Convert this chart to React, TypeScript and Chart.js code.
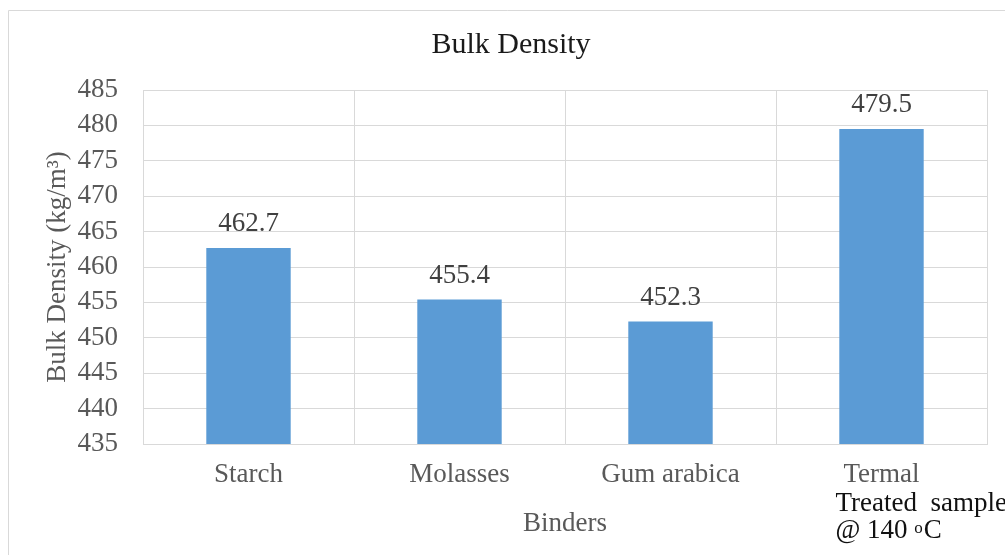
import React, { useEffect, useRef } from "react";
import { Chart, registerables } from "chart.js";

Chart.register(...registerables);

const categories = ["Starch", "Molasses", "Gum arabica", "Termal"];
const densities = [462.7, 455.4, 452.3, 479.5];
const yMin = 435;
const yMax = 485;
const yStep = 5;

const chartTitle = "Bulk Density";
const yTitle = "Bulk Density (kg/m³)";
const xTitle = "Binders";
const extraLine1 = "Treated  sample";
const extraLine2 = "@ 140 ";
const extraSup = "o";
const extraUnit = "C";

const SERIF = "'Liberation Serif', 'Times New Roman', serif";
const BAR_COLOR = "#5B9BD5";
const GRID_COLOR = "#d9d9d9";
const AXIS_TEXT = "#595959";

const decorPlugin = {
  id: "decor",
  beforeDraw(chart: any) {
    const { ctx } = chart;
    ctx.save();
    // outer chart frame (continues past the right and bottom edges)
    ctx.strokeStyle = GRID_COLOR;
    ctx.lineWidth = 1;
    ctx.beginPath();
    ctx.moveTo(8.5, chart.height + 5);
    ctx.lineTo(8.5, 10.5);
    ctx.lineTo(chart.width + 5, 10.5);
    ctx.stroke();
    ctx.restore();
  },
  afterDraw(chart: any) {
    const { ctx } = chart;
    const xScale = chart.scales.x;
    const area = chart.chartArea;
    ctx.save();

    // chart title
    ctx.font = `30px ${SERIF}`;
    ctx.fillStyle = "#1a1a1a";
    ctx.textAlign = "center";
    ctx.textBaseline = "alphabetic";
    ctx.fillText(chartTitle, 511, 53);

    // value labels above the bars
    ctx.font = `27px ${SERIF}`;
    ctx.fillStyle = "#404040";
    const meta = chart.getDatasetMeta(0);
    meta.data.forEach((bar: any, i: number) => {
      const v = chart.data.datasets[0].data[i] as number;
      ctx.fillText(v.toFixed(1), bar.x, bar.y - 17);
    });

    // extra text box under the last category
    const x0 = xScale.getPixelForValue(3) - 46;
    ctx.fillStyle = "#111111";
    ctx.textAlign = "left";
    ctx.font = `27px ${SERIF}`;
    ctx.fillText(extraLine1, x0, area.bottom + 67);
    const y2 = area.bottom + 94;
    ctx.fillText(extraLine2, x0, y2);
    let xc = x0 + ctx.measureText(extraLine2).width;
    ctx.font = `17px ${SERIF}`;
    ctx.fillText(extraSup, xc, y2 - 5);
    xc += ctx.measureText(extraSup).width + 1;
    ctx.font = `27px ${SERIF}`;
    ctx.fillText(extraUnit, xc, y2);

    ctx.restore();
  },
};

export default function App() {
  const canvasRef = useRef<HTMLCanvasElement | null>(null);

  useEffect(() => {
    const canvas = canvasRef.current;
    if (!canvas) return;
    const chart = new Chart(canvas, {
      type: "bar",
      data: {
        labels: categories,
        datasets: [
          {
            label: chartTitle,
            data: densities,
            backgroundColor: BAR_COLOR,
            borderWidth: 0,
            categoryPercentage: 1,
            barPercentage: 0.4,
          },
        ],
      },
      options: {
        responsive: false,
        animation: false,
        layout: { padding: { top: 90, right: 18, left: 0, bottom: 0 } },
        plugins: {
          legend: { display: false },
          title: { display: false },
          tooltip: { enabled: false },
        },
        scales: {
          x: {
            afterFit: (scale: any) => {
              scale.height = 111;
            },
            grid: {
              display: true,
              offset: true,
              color: GRID_COLOR,
              drawTicks: false,
            },
            border: { color: GRID_COLOR },
            ticks: {
              color: AXIS_TEXT,
              font: { family: SERIF, size: 27 },
              padding: 15,
              maxRotation: 0,
            },
            title: {
              display: true,
              text: xTitle,
              color: AXIS_TEXT,
              font: { family: SERIF, size: 27 },
              padding: { top: 0, bottom: 15 },
            },
          },
          y: {
            min: yMin,
            max: yMax,
            afterFit: (scale: any) => {
              scale.width = 143;
            },
            grid: { color: GRID_COLOR, drawTicks: false },
            border: { color: GRID_COLOR },
            ticks: {
              stepSize: yStep,
              color: AXIS_TEXT,
              font: { family: SERIF, size: 27 },
              padding: 25,
            },
            title: {
              display: true,
              text: yTitle,
              color: AXIS_TEXT,
              font: { family: SERIF, size: 27 },
              padding: { top: 42, bottom: 0 },
            },
          },
        },
      },
      plugins: [decorPlugin],
    });
    return () => chart.destroy();
  }, []);

  return (
    <div style={{ position: "fixed", left: 0, top: 0, width: 1005, height: 555, background: "#fff" }}>
      <canvas ref={canvasRef} width={1005} height={555} style={{ display: "block" }} />
    </div>
  );
}
